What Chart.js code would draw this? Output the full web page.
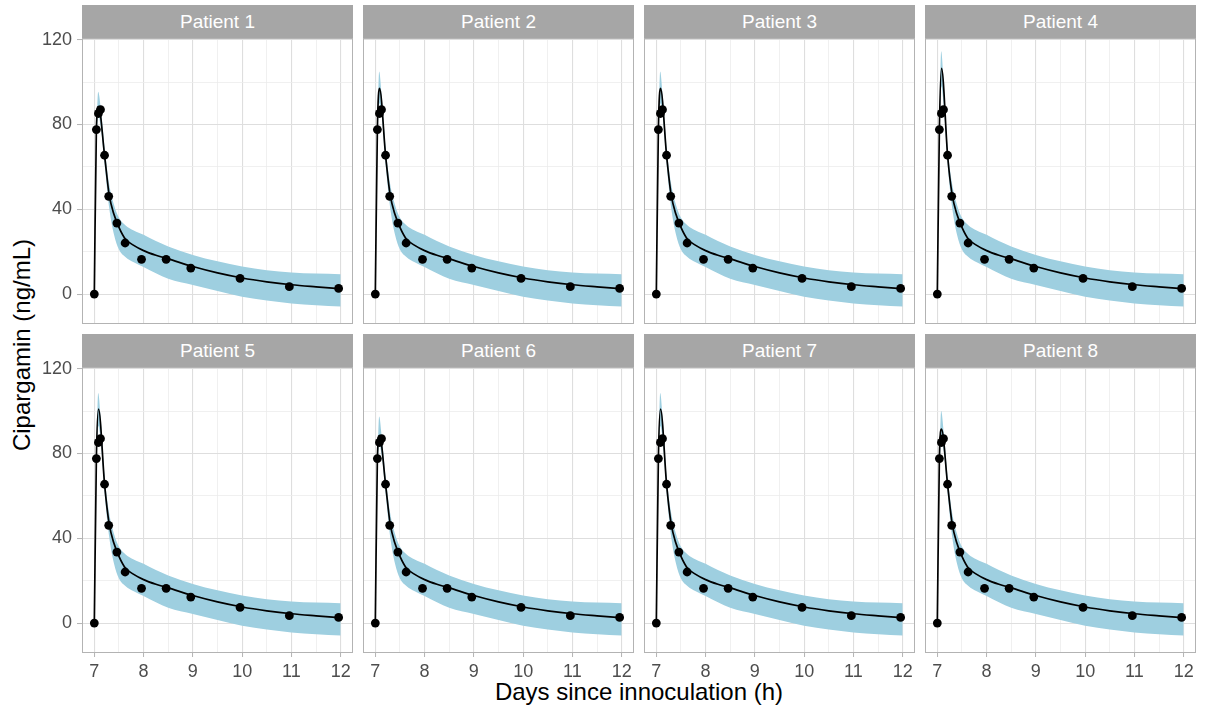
<!DOCTYPE html>
<html>
<head>
<meta charset="utf-8">
<script src="https://cdn.jsdelivr.net/npm/chart.js@4.4.1/dist/chart.umd.min.js"></script>
<style>
  body { margin: 0; background: #fff; width: 1207px; height: 713px; position: relative; overflow: hidden;
         font-family: "Liberation Sans", Arial, sans-serif; }
  .strip { position: absolute; height: 33px; background: #a6a6a6; color: #fff; font-size: 19px;
           text-align: center; line-height: 33px; }
  canvas { position: absolute; }
  .title { position: absolute; color: #000; font-size: 24px; white-space: nowrap; line-height: 28px; text-align: center; }
  #ytitle { left: -128px; top: 331px; width: 300px; transform: rotate(-90deg); }
  #xtitle { left: 82px; top: 678px; width: 1114px; }
</style>
</head>
<body>
<div class="title" id="ytitle">Cipargamin (ng/mL)</div>
<div class="title" id="xtitle">Days since innoculation (h)</div>
<script>
// facets
const patients = ["Patient 1", "Patient 2", "Patient 3", "Patient 4",
                  "Patient 5", "Patient 6", "Patient 7", "Patient 8"];

// observed concentrations (same samples shown in every panel)
const obsTime = [7, 7.042, 7.083, 7.125, 7.208, 7.292, 7.458, 7.625, 7.958, 8.458, 8.958, 9.958, 10.958, 11.958];
const obsConc = [0, 77.6, 85.2, 87, 65.5, 46.1, 33.5, 24.1, 16.4, 16.4, 12.3, 7.4, 3.5, 2.7];

// fitted curve: rise + per-patient peak, then a shared decay
const fitHeadTime = [7, 7.042, 7.085];
const fitRise = [0, 78];
const fitPeak = [88.5, 97, 97, 106.5, 101, 88.5, 101, 91.5];
const fitTailTime = [7.21, 7.3, 7.4, 7.5, 7.63, 7.8, 8, 8.25, 8.5, 9, 9.5, 10, 10.5, 11, 11.5, 12];
const fitTailConc = [65, 47, 37.5, 31.5, 26, 23, 20.5, 18.3, 16.6, 13, 10, 7.6, 5.8, 4.4, 3.4, 2.5];

// prediction band
const bandSpikeTime = [7.045, 7.078, 7.13];
const bandSpikeUpper = [[78, 95.5, 88], [80, 105, 93], [80, 105, 93], [82, 114.5, 99],
                        [81, 108.5, 96], [78, 97.5, 88], [81, 108.5, 96], [79, 100, 90]];
const bandSpikeLower = [[72, 84, 79], [72, 90, 84], [72, 90, 84], [74, 98, 89],
                        [73, 93, 86], [72, 84, 79], [73, 93, 86], [72, 86, 81]];
const bandTailUpper = [69, 52, 42, 36, 32.5, 30, 28, 25, 22.5, 18.5, 15.5, 13, 11.3, 10.2, 9.7, 9.4];
const bandTailLower = [61, 41, 28, 21, 17.5, 15, 12.8, 9.8, 7.2, 4.3, 1.5, -1.2, -3, -4.4, -5.2, -5.8];

// axes
const xBreaks = [7, 8, 9, 10, 11, 12];
const xMinor = [7.5, 8.5, 9.5, 10.5, 11.5];
const yBreaks = [0, 40, 80, 120];
const yMinor = [20, 60, 100];
const xMin = 6.75, xMax = 12.25, yMin = -14.1, yMax = 120.8;

// layout
const colLeft = [82, 363, 644, 925];
const rowTop = [38, 367];
const panelW = 271, panelH = 286, yAxisW = 52, xAxisH = 30, pad = 20;

Chart.defaults.font.family = "'Liberation Sans', Arial, sans-serif";

const panelBorder = {
  id: "panelBorder",
  afterDatasetsDraw(chart) {
    const { ctx, chartArea: a } = chart;
    ctx.save();
    ctx.strokeStyle = "#b3b3b3";
    ctx.lineWidth = 1;
    ctx.strokeRect(a.left + 0.5, a.top + 0.5, a.right - a.left - 1, a.bottom - a.top - 1);
    ctx.restore();
  }
};

const toXY = (xs, ys) => xs.map((x, k) => ({ x: x, y: ys[k] }));

patients.forEach((name, i) => {
  const col = i % 4;
  const row = Math.floor(i / 4);

  const strip = document.createElement("div");
  strip.className = "strip";
  strip.style.left = colLeft[col] + "px";
  strip.style.top = (rowTop[row] - 33) + "px";
  strip.style.width = panelW + "px";
  strip.textContent = name;
  document.body.appendChild(strip);

  const axW = col === 0 ? yAxisW : 0;
  const axH = row === 1 ? xAxisH : 0;
  const cv = document.createElement("canvas");
  cv.width = panelW + axW + 2 * pad;
  cv.height = panelH + axH + 2 * pad;
  cv.style.left = (colLeft[col] - axW - pad) + "px";
  cv.style.top = (rowTop[row] - pad) + "px";
  document.body.appendChild(cv);

  const fit = toXY(fitHeadTime.concat(fitTailTime), fitRise.concat([fitPeak[i]], fitTailConc));
  const bandTime = bandSpikeTime.concat(fitTailTime);
  const upper = toXY(bandTime, bandSpikeUpper[i].concat(bandTailUpper));
  const lower = toXY(bandTime, bandSpikeLower[i].concat(bandTailLower));

  new Chart(cv, {
    type: "line",
    data: {
      datasets: [
        { data: toXY(obsTime, obsConc), showLine: false, pointRadius: 4.4,
          pointBackgroundColor: "#000", pointBorderColor: "#000", pointBorderWidth: 0 },
        { data: fit, borderColor: "#000", borderWidth: 1.7, pointRadius: 0,
          cubicInterpolationMode: "monotone", fill: false },
        { data: upper, borderColor: "rgba(0,0,0,0)", borderWidth: 1, pointRadius: 0,
          cubicInterpolationMode: "monotone", fill: "+1", backgroundColor: "#9ecfe0" },
        { data: lower, borderColor: "rgba(0,0,0,0)", borderWidth: 1, pointRadius: 0,
          cubicInterpolationMode: "monotone", fill: false }
      ]
    },
    options: {
      responsive: false,
      animation: false,
      events: [],
      layout: { padding: pad, autoPadding: false },
      plugins: { legend: { display: false }, tooltip: { enabled: false } },
      scales: {
        x: {
          type: "linear", min: xMin, max: xMax,
          afterBuildTicks: (s) => { s.ticks = xBreaks.concat(xMinor).sort((a, b) => a - b).map(v => ({ value: v })); },
          afterFit: (s) => { s.height = axH; },
          ticks: {
            display: row === 1, autoSkip: false, maxRotation: 0, padding: 4,
            color: "#4d4d4d", font: { size: 18 },
            callback: (v) => xBreaks.includes(v) ? String(v) : ""
          },
          grid: {
            color: (c) => xBreaks.includes(c.tick.value) ? "#dedede" : "#ececec",
            lineWidth: (c) => xBreaks.includes(c.tick.value) ? 1.1 : 0.8,
            drawTicks: row === 1, tickLength: 4, tickWidth: 1,
            tickColor: (c) => xBreaks.includes(c.tick.value) ? "#b3b3b3" : "rgba(0,0,0,0)"
          },
          border: { display: false }
        },
        y: {
          type: "linear", min: yMin, max: yMax,
          afterBuildTicks: (s) => { s.ticks = yBreaks.concat(yMinor).sort((a, b) => a - b).map(v => ({ value: v })); },
          afterFit: (s) => { s.width = axW; },
          ticks: {
            display: col === 0, autoSkip: false, padding: 5,
            color: "#4d4d4d", font: { size: 18 },
            callback: (v) => yBreaks.includes(v) ? String(v) : ""
          },
          grid: {
            color: (c) => yBreaks.includes(c.tick.value) ? "#dedede" : "#ececec",
            lineWidth: (c) => yBreaks.includes(c.tick.value) ? 1.1 : 0.8,
            drawTicks: col === 0, tickLength: 5, tickWidth: 1,
            tickColor: (c) => yBreaks.includes(c.tick.value) ? "#b3b3b3" : "rgba(0,0,0,0)"
          },
          border: { display: false }
        }
      }
    },
    plugins: [panelBorder]
  });
});
</script>
</body>
</html>
